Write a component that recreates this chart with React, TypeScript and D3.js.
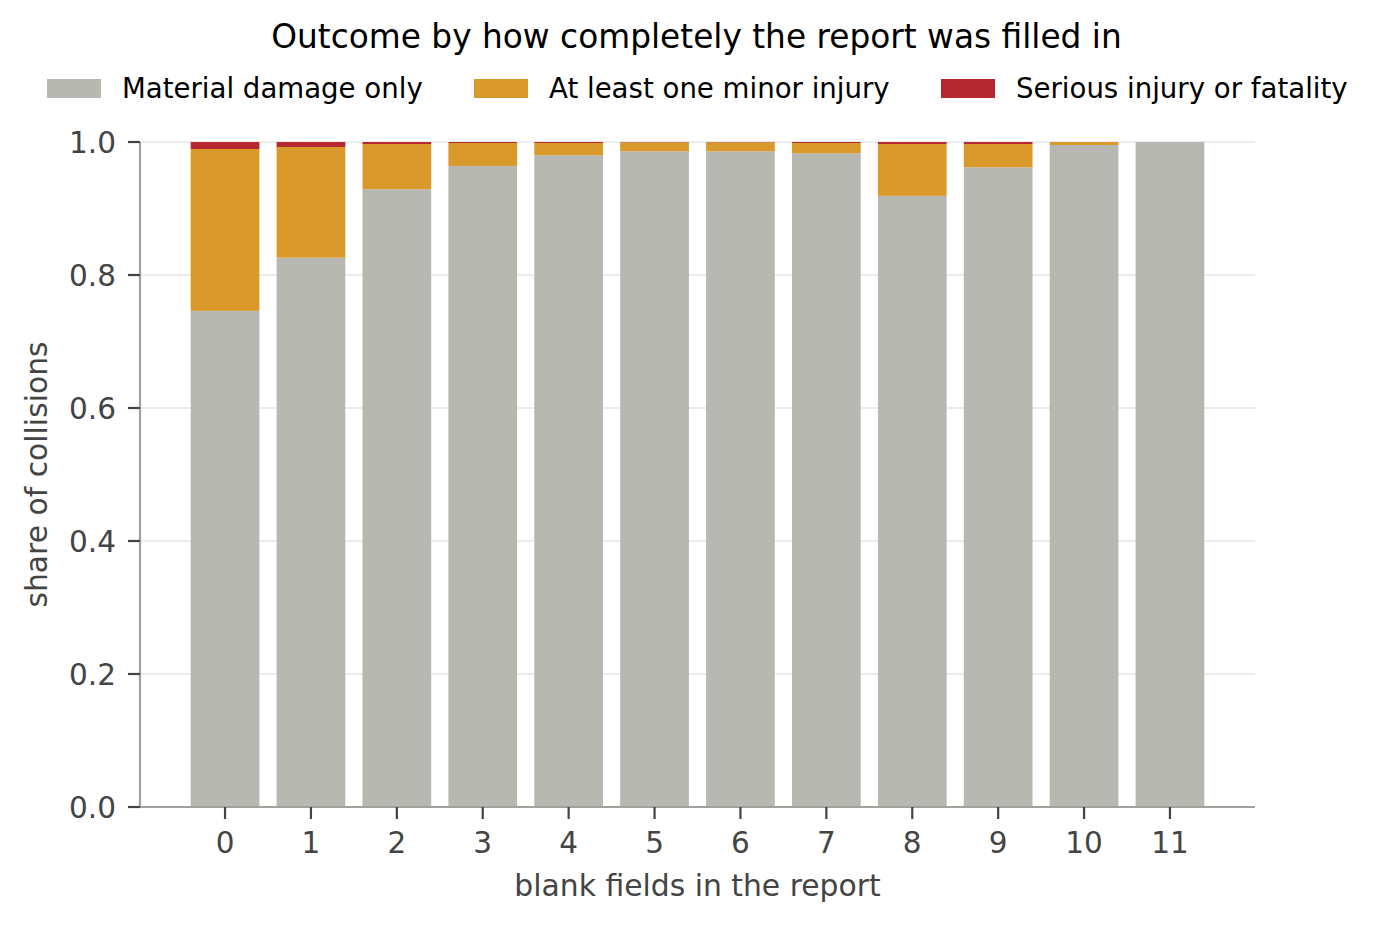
import { useEffect, useRef } from "react";
import * as d3 from "d3";

// Blank fields per report (x categories)
const blankFields = ["0", "1", "2", "3", "4", "5", "6", "7", "8", "9", "10", "11"];

// Shares per outcome
const materialOnly = [0.746, 0.826, 0.929, 0.964, 0.98, 0.986, 0.986, 0.983, 0.919, 0.962, 0.9955, 1.0];
const minorInjury = [0.2435, 0.1665, 0.068, 0.0345, 0.0185, 0.0135, 0.0135, 0.0155, 0.078, 0.035, 0.0045, 0];
const seriousInjury = [0.0105, 0.0075, 0.003, 0.0015, 0.0015, 0.0005, 0.0005, 0.0015, 0.003, 0.003, 0, 0];

const seriesNames = ["Material damage only", "At least one minor injury", "Serious injury or fatality"];
const seriesColors = ["#b7b8b2", "#d99a2b", "#b5282f"];
const yTicks = [0, 0.2, 0.4, 0.6, 0.8, 1.0];

const W = 1381;
const H = 928;
const FONT = "DejaVu Sans, sans-serif";

export default function App(): JSX.Element {
    const svgRef = useRef<SVGSVGElement>(null);

    useEffect(() => {
        const svg = d3.select(svgRef.current);
        svg.selectAll("*").remove();

        const left = 140, right = 1255, top = 142, bottom = 807;

        // linear x so that bar margins match the matplotlib-like padding
        const x = d3.scaleLinear().domain([-0.99, 11.99]).range([left, right]);
        const bw = (x(0.8) - x(0));
        const y = d3.scaleLinear().domain([0, 1]).range([bottom, top]);

        const rows = blankFields.map((k, i) => ({
            key: k,
            idx: i,
            s0: materialOnly[i],
            s1: minorInjury[i],
            s2: seriousInjury[i],
        }));

        const stacked = d3.stack<any>().keys(["s0", "s1", "s2"])(rows);

        // grid
        svg.append("g")
            .selectAll("line")
            .data(yTicks)
            .enter().append("line")
            .attr("x1", left).attr("x2", right)
            .attr("y1", d => y(d)).attr("y2", d => y(d))
            .attr("stroke", "#e6e6e6")
            .attr("stroke-width", 1.6);

        // bars
        svg.append("g")
            .selectAll("g")
            .data(stacked)
            .enter().append("g")
            .attr("fill", (_, i) => seriesColors[i])
            .selectAll("rect")
            .data(d => d)
            .enter().append("rect")
            .attr("x", d => x(d.data.idx) - bw / 2)
            .attr("width", bw)
            .attr("y", d => y(d[1]))
            .attr("height", d => Math.max(0, y(d[0]) - y(d[1])));

        // spines
        svg.append("line")
            .attr("x1", left).attr("x2", left)
            .attr("y1", top).attr("y2", bottom)
            .attr("stroke", "#a2a29c").attr("stroke-width", 2.2);
        svg.append("line")
            .attr("x1", left).attr("x2", right)
            .attr("y1", bottom).attr("y2", bottom)
            .attr("stroke", "#a2a29c").attr("stroke-width", 2.2);

        // y ticks
        const yt = svg.append("g");
        yt.selectAll("line")
            .data(yTicks)
            .enter().append("line")
            .attr("x1", left - 12).attr("x2", left)
            .attr("y1", d => y(d)).attr("y2", d => y(d))
            .attr("stroke", "#444").attr("stroke-width", 2.2);
        yt.selectAll("text")
            .data(yTicks)
            .enter().append("text")
            .attr("x", left - 24)
            .attr("y", d => y(d))
            .attr("dy", "0.36em")
            .attr("text-anchor", "end")
            .attr("font-family", FONT)
            .attr("font-size", 29.5)
            .attr("fill", "#444")
            .text(d => d3.format(".1f")(d));

        // x ticks
        const xt = svg.append("g");
        xt.selectAll("line")
            .data(rows)
            .enter().append("line")
            .attr("x1", d => x(d.idx)).attr("x2", d => x(d.idx))
            .attr("y1", bottom).attr("y2", bottom + 12)
            .attr("stroke", "#444").attr("stroke-width", 2.2);
        xt.selectAll("text")
            .data(rows)
            .enter().append("text")
            .attr("x", d => x(d.idx))
            .attr("y", 853)
            .attr("text-anchor", "middle")
            .attr("font-family", FONT)
            .attr("font-size", 29.5)
            .attr("fill", "#444")
            .text(d => d.key);

        // axis labels
        svg.append("text")
            .attr("x", (left + right) / 2)
            .attr("y", 896)
            .attr("text-anchor", "middle")
            .attr("font-family", FONT)
            .attr("font-size", 29.8)
            .attr("fill", "#444")
            .text("blank fields in the report");

        svg.append("text")
            .attr("transform", `translate(47,${(top + bottom) / 2}) rotate(-90)`)
            .attr("text-anchor", "middle")
            .attr("font-family", FONT)
            .attr("font-size", 29.8)
            .attr("fill", "#444")
            .text("share of collisions");

        // title
        svg.append("text")
            .attr("x", (left + right) / 2 - 1)
            .attr("y", 48)
            .attr("text-anchor", "middle")
            .attr("font-family", FONT)
            .attr("font-size", 32.8)
            .attr("fill", "#000")
            .text("Outcome by how completely the report was filled in");

        // legend
        const legendX = [47, 474, 941];
        const lg = svg.append("g")
            .selectAll("g")
            .data(seriesNames)
            .enter().append("g")
            .attr("transform", (_, i) => `translate(${legendX[i]},79)`);
        lg.append("rect")
            .attr("width", 54).attr("height", 19)
            .attr("fill", (_, i) => seriesColors[i]);
        lg.append("text")
            .attr("x", 75)
            .attr("y", 19)
            .attr("font-family", FONT)
            .attr("font-size", 27.6)
            .attr("fill", "#000")
            .text(d => d);
    }, []);

    return (
        <svg
            ref={svgRef}
            width={W}
            height={H}
            style={{ position: "absolute", left: 0, top: 0, background: "#fff" }}
        />
    );
}
